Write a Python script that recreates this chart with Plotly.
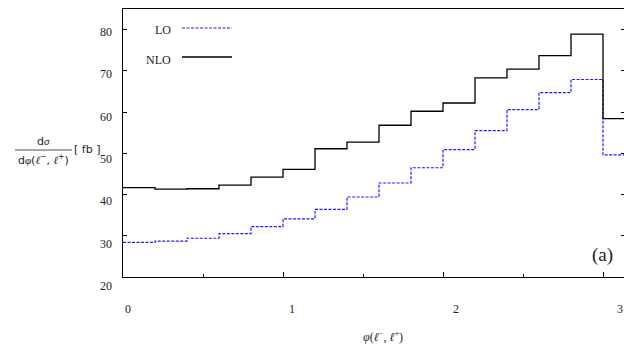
import plotly.graph_objects as go

# Azimuthal-angle distribution, binned in phi(l-, l+)
phi_edges = [0.0, 0.2, 0.4, 0.6, 0.8, 1.0, 1.2, 1.4, 1.6, 1.8, 2.0,
             2.2, 2.4, 2.6, 2.8, 3.0, 3.14159]
lo_fb = [28.4, 28.7, 29.4, 30.5, 32.2, 34.1, 36.4, 39.4, 42.8, 46.5,
         50.9, 55.5, 60.6, 64.7, 67.9, 49.6]
nlo_fb = [41.7, 41.3, 41.4, 42.3, 44.2, 46.1, 51.1, 52.7, 56.8, 60.2,
          62.2, 68.3, 70.4, 73.7, 78.9, 58.4]
x_ticks = [0, 1, 2, 3]
y_ticks = [20, 30, 40, 50, 60, 70, 80]

W, H = 624, 344
L, R, T, B = 123, 0, 9, 67
PX_PER_UNIT = 160.0
X_RANGE = [0, (W - L - R) / PX_PER_UNIT]
Y_RANGE = [20, 85]
SERIF = "Liberation Serif"
SANS = "DejaVu Sans"
TXT = "#222"


def px(xp):
    return (xp - L) / (W - L - R)


def py(yp):
    return (H - B - yp) / (H - B - T)


def yval_to_paper(v):
    return (v - Y_RANGE[0]) / (Y_RANGE[1] - Y_RANGE[0])


fig = go.Figure()
fig.add_trace(go.Scatter(
    x=phi_edges, y=lo_fb + [lo_fb[-1]], mode="lines", line_shape="hv",
    line=dict(color="#1a1aff", width=1.2, dash="3px,1.5px"), showlegend=False))
fig.add_trace(go.Scatter(
    x=phi_edges, y=nlo_fb + [nlo_fb[-1]], mode="lines", line_shape="hv",
    line=dict(color="#000000", width=1.3), showlegend=False))
# invisible trace to carry the right-hand tick marks
fig.add_trace(go.Scatter(x=[None], y=[None], yaxis="y2", showlegend=False))

ann = []
# tick labels, set slightly apart from the ticks as in the typeset layout
for v in x_ticks:
    ann.append(dict(x=v * 1.025 + 0.031, y=0, xref="x", yref="paper", yshift=-32,
                    text=str(v), showarrow=False, xanchor="center", yanchor="middle",
                    font=dict(family=SERIF, size=12, color=TXT)))
for v in y_ticks:
    ann.append(dict(x=px(114), y=yval_to_paper(v - 2.2 + 0.028 * (v - 20)),
                    xref="paper", yref="paper",
                    text=str(v), showarrow=False, xanchor="right", yanchor="middle",
                    font=dict(family=SERIF, size=12, color=TXT)))

it = "<span style='font-family:Liberation Serif'><i>{}</i></span>"
phi_ll = (it.format("φ") + "(" + it.format("ℓ") + "<sup>−</sup>, "
          + it.format("ℓ") + "<sup>+</sup>)")

# y-axis title as a stacked fraction
ann += [
    dict(x=px(43), y=py(141), xref="paper", yref="paper",
         text="d" + it.format("σ"),
         showarrow=False, xanchor="center", yanchor="middle",
         font=dict(family=SANS, size=11, color=TXT)),
    dict(x=px(43), y=py(159), xref="paper", yref="paper",
         text="d" + phi_ll,
         showarrow=False, xanchor="center", yanchor="middle",
         font=dict(family=SANS, size=11, color=TXT)),
    dict(x=px(87), y=py(149), xref="paper", yref="paper", text="[ fb ]",
         showarrow=False, xanchor="center", yanchor="middle",
         font=dict(family=SANS, size=11, color=TXT)),
    dict(x=px(383), y=py(336), xref="paper", yref="paper",
         text=phi_ll,
         showarrow=False, xanchor="center", yanchor="middle",
         font=dict(family=SERIF, size=12, color=TXT)),
    dict(x=px(602), y=py(255), xref="paper", yref="paper", text="(a)",
         showarrow=False, xanchor="center", yanchor="middle",
         font=dict(family=SERIF, size=19, color=TXT)),
    dict(x=px(173), y=py(30), xref="paper", yref="paper", text="LO",
         showarrow=False, xanchor="right", yanchor="middle",
         font=dict(family=SERIF, size=12, color=TXT)),
    dict(x=px(173), y=py(60), xref="paper", yref="paper", text="NLO",
         showarrow=False, xanchor="right", yanchor="middle",
         font=dict(family=SERIF, size=12, color=TXT)),
]

shapes = [
    dict(type="line", xref="paper", yref="paper", x0=px(15), x1=px(72),
         y0=py(150), y1=py(150), line=dict(color=TXT, width=0.8)),
    dict(type="line", xref="paper", yref="paper", x0=px(182), x1=px(232),
         y0=py(28), y1=py(28), line=dict(color="#1a1aff", width=1.2, dash="3px,1.5px")),
    dict(type="line", xref="paper", yref="paper", x0=px(182), x1=px(232),
         y0=py(57), y1=py(57), line=dict(color="#000000", width=1.3)),
]

fig.update_layout(
    width=W, height=H, margin=dict(l=L, r=R, t=T, b=B),
    paper_bgcolor="white", plot_bgcolor="white",
    annotations=ann, shapes=shapes,
    xaxis=dict(range=X_RANGE, tickvals=x_ticks, showticklabels=False,
               ticks="inside", ticklen=5, tickcolor="#000", tickwidth=1,
               minor=dict(tickvals=[0.5, 1.5, 2.5], ticks="inside", ticklen=3,
                          tickcolor="#000", tickwidth=1),
               showline=True, linecolor="#000", linewidth=1.3, mirror=True,
               showgrid=False, zeroline=False, fixedrange=True),
    yaxis=dict(range=Y_RANGE, tickvals=y_ticks, showticklabels=False,
               ticks="inside", ticklen=4, tickcolor="#000", tickwidth=1,
               showline=True, linecolor="#000", linewidth=1.3,
               showgrid=False, zeroline=False, fixedrange=True),
    yaxis2=dict(range=Y_RANGE, overlaying="y", side="right", tickvals=y_ticks,
                showticklabels=False, ticks="inside", ticklen=3, tickcolor="#000",
                showline=False, showgrid=False, zeroline=False, fixedrange=True),
)

fig.write_html("out.html")
